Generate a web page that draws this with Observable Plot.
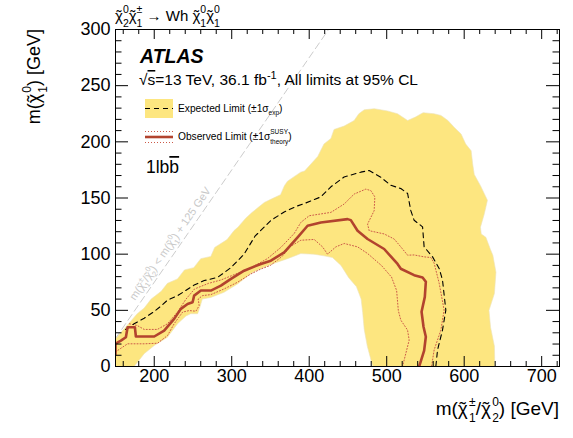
<!DOCTYPE html>
<html><head><meta charset="utf-8">
<script src="https://cdn.jsdelivr.net/npm/d3@7"></script>
<script src="https://cdn.jsdelivr.net/npm/@observablehq/plot@0.6"></script>
<style>body{margin:0;background:#fff}#chart{width:573px;height:438px}</style>
</head><body><div id="chart"></div>
<script>
// ---- data (GeV): [m(chargino/neutralino2), m(neutralino1)] ----
const bandUpper = [[150,25],[163,35],[178,47],[187,52],[196,60],[209,67],[217,74],[230,78],[239,86],[251,88],[260,96],[273,98],[278,106],[294,113],[303,121],[308,124],[318,132],[326,137],[342,146],[351,149],[363,153],[368,161],[372,165],[389,173],[394,174],[411,187],[419,198],[428,203],[432,211],[445,214],[458,219],[464,225],[471,228.5],[484,229.5],[501,227.5],[514,225],[527,219],[537,222],[547,226],[561,225],[570,223.5],[579,219],[587,213],[596,207],[602,198],[609,192],[611,180],[613,171],[621,161],[630,148],[626,136],[621,124],[622,118],[628,115],[634,104],[637,99],[641,84],[639,65],[632,50],[634,35],[639,18],[639.5,0]];
const bandLower = [[482,0],[475,18],[471,33],[469,48],[467,60],[461,71],[451,79],[441,90],[430,97],[419,98.5],[406,100],[389,100.5],[372,96],[355,92],[340,88],[325,83],[307.5,73.5],[290,66],[273,61.5],[262,60],[259,53],[256,47],[247,47],[241,45],[230,38],[217,26],[200,18.7],[187,11.4],[174,0],[150,0]];
const expectedLimit = [[163,33],[174,38],[187,43],[200,49],[209,54],[217,59],[230,63],[251.5,72.5],[264.5,76.5],[281.7,79.3],[299,88],[316,100],[330,116],[350.5,130],[367.7,137.6],[385,143],[393.5,145],[415,151],[428,160],[445,168.7],[466.6,173],[477.4,174.5],[492.4,168.5],[505.3,161.3],[518.2,158.4],[527,154],[531,139],[535.4,130.2],[546.3,124.3],[548.3,106.5],[559.2,97.6],[567.7,87.3],[572,77],[576.3,50.2],[572,32.4],[565.6,14.7],[563.4,0]];
const observedLimit = [[150,11],[150,20.4],[157,23],[163.4,26],[165.6,35],[175,35],[176.3,26.7],[200,26.7],[212.8,32],[225.7,42.4],[234.4,51.3],[243,55.7],[249.5,57.2],[251.5,63.1],[260.2,67.6],[273.1,67.6],[286,72],[299,78],[316,85.3],[337.6,91.3],[350.5,94.2],[367.7,101.6],[385,115],[397.9,125.3],[415,128.2],[449.5,131.2],[453.7,130.3],[462.4,120.9],[475.3,113.5],[496.7,104.6],[514,91.3],[518.2,87],[535.4,81.3],[546.3,79.3],[550.5,75.4],[549.2,62],[545,48.7],[547.5,35.4],[550.5,26.5],[548.3,14.2],[541.9,0]];
const observedUp = [[168,38],[178,36.5],[187,33],[204,33],[217,38],[230,48.5],[241,60],[252,69],[270,74],[286,77],[307.5,83],[325,88],[346,96],[363.4,106],[380.6,118.4],[389.2,128.3],[400,134.2],[428,137.2],[445,144.6],[458,153.5],[473,157.9],[479.5,156.6],[484.7,151],[483.8,138.7],[475.3,126.8],[477.4,120.9],[496.7,118],[509.6,113.5],[518.2,106.5],[526.9,99.1],[535.4,99.3],[548.3,97.6],[557,97],[561.2,92],[567.7,74.2],[574.1,50.2],[569.9,32.4],[561.2,14.7],[557.9,0]];
const observedDown = [[150,13],[165.6,20.2],[187,20.2],[204.3,20.7],[217.2,27.6],[225.7,38.1],[236.6,48.4],[245.1,49.8],[253.7,49.2],[258,54.2],[256.7,60.1],[262.4,63.1],[273.1,64],[290.3,69.1],[307.5,75],[324.7,82.4],[337.6,86.8],[350,90],[365,98],[376.3,107.1],[389.2,112.4],[406.4,113.1],[417.2,106.5],[423.6,100],[434.4,106.5],[445.1,109.5],[462.4,106.5],[475.3,100.6],[493.4,89.8],[506.3,79.5],[512.8,67.6],[515,49.8],[518.2,41.3],[526.9,32.4],[529,23.5],[524.7,11.7],[520.4,0]];
const higgsMass = 125;
const xDomain = [150, 723];
const yDomain = [0, 300];
const xMajor = [200, 300, 400, 500, 600, 700];
const xMinor = [160,180,220,240,260,280,320,340,360,380,420,440,460,480,520,540,560,580,620,640,660,680,720];
const yMajor = [0, 50, 100, 150, 200, 250, 300];
const yMinor = [10,20,30,40,60,70,80,90,110,120,130,140,160,170,180,190,210,220,230,240,260,270,280,290];

const FONT = "'Liberation Sans', Arial, Helvetica, sans-serif";
const YELLOW = "#fde680", RED = "#b2432e", DOT = "#cc5a48";
const band = bandUpper.concat(bandLower);
const diag = [[xDomain[0], xDomain[0] - higgsMass], [yDomain[1] + higgsMass, yDomain[1]]];
const X = d => d[0], Y = d => d[1];

const plot = Plot.plot({
  width: 573, height: 438,
  marginLeft: 115, marginRight: 14, marginTop: 29, marginBottom: 72,
  x: {domain: xDomain},
  y: {domain: yDomain},
  style: {fontFamily: FONT, background: "white", color: "black"},
  marks: [
    Plot.line(band, {x: X, y: Y, fill: YELLOW, stroke: "#ece3b8", strokeWidth: 0.6, clip: true}),
    Plot.line(diag, {x: X, y: Y, stroke: "#cccccc", strokeWidth: 1, strokeDasharray: "7,4", clip: true}),
    Plot.line(observedDown, {x: X, y: Y, stroke: DOT, strokeWidth: 1, strokeDasharray: "1,2", clip: true}),
    Plot.line(observedUp, {x: X, y: Y, stroke: DOT, strokeWidth: 1, strokeDasharray: "1,2", clip: true}),
    Plot.line(expectedLimit, {x: X, y: Y, stroke: "black", strokeWidth: 1.1, strokeDasharray: "5,4", clip: true}),
    Plot.line(observedLimit, {x: X, y: Y, stroke: RED, strokeWidth: 2.6, clip: true}),
    Plot.frame({stroke: "black", strokeWidth: 1}),
    // bottom / top ticks
    Plot.ruleX(xMajor, {x: d => d, y1: yDomain[0], y2: yDomain[0], insetBottom: 10, stroke: "black"}),
    Plot.ruleX(xMinor, {x: d => d, y1: yDomain[0], y2: yDomain[0], insetBottom: 5, stroke: "black"}),
    Plot.ruleX(xMajor, {x: d => d, y1: yDomain[1], y2: yDomain[1], insetBottom: -10, stroke: "black"}),
    Plot.ruleX(xMinor, {x: d => d, y1: yDomain[1], y2: yDomain[1], insetBottom: -5, stroke: "black"}),
    // left / right ticks
    Plot.ruleY(yMajor, {y: d => d, x1: xDomain[0], x2: xDomain[0], insetRight: -13, stroke: "black"}),
    Plot.ruleY(yMinor, {y: d => d, x1: xDomain[0], x2: xDomain[0], insetRight: -6.5, stroke: "black"}),
    Plot.ruleY(yMajor, {y: d => d, x1: xDomain[1], x2: xDomain[1], insetLeft: -13, stroke: "black"}),
    Plot.ruleY(yMinor, {y: d => d, x1: xDomain[1], x2: xDomain[1], insetLeft: -6.5, stroke: "black"}),
    Plot.axisX({ticks: xMajor, tickSize: 0, tickPadding: 3, fontSize: 18, label: null, anchor: "bottom"}),
    Plot.axisY({ticks: yMajor, tickSize: 0, tickPadding: 5, fontSize: 18, label: null, anchor: "left"})
  ]
});
document.getElementById("chart").appendChild(plot);

const svg = d3.select(plot);
const sx = plot.scale("x").apply, sy = plot.scale("y").apply;

// rich text: parts {t, size, sh (px up), stack (stack under previous), accent (centered over previous), gap, deco}
function rich(x, y, parts, o = {}) {
  const t = svg.append("text").attr("x", x).attr("y", y)
    .attr("font-family", FONT).attr("font-size", o.size || 14)
    .attr("fill", o.fill || "black").attr("text-anchor", o.anchor || "start");
  if (o.transform) t.attr("transform", o.transform);
  if (o.weight) t.attr("font-weight", o.weight);
  if (o.style) t.attr("font-style", o.style);
  let cur = 0, prevLen = 0, pend = 0;
  for (const p of parts) {
    const sh = p.sh || 0;
    const ts = t.append("tspan").text(p.t);
    if (p.size) ts.attr("font-size", p.size);
    if (p.deco) ts.attr("text-decoration", p.deco);
    ts.attr("dy", cur - sh);
    cur = sh;
    const len = ts.node().getComputedTextLength();
    if (p.accent) {
      ts.attr("dx", pend - (prevLen + len) / 2);
      pend = (prevLen - len) / 2;
      continue;
    }
    let dx = pend + (p.gap || 0); pend = 0;
    if (p.stack) dx -= prevLen;
    if (dx) ts.attr("dx", dx);
    if (p.stack && prevLen > len) pend = prevLen - len;
    prevLen = len;
  }
  return t;
}
function chiSS(sup, sub, size, up, down, gap = 0) {
  return [{t: "\u03C7"}, {t: "\u02DC", accent: true}, {t: sup, size, sh: up, gap}, {t: sub, size, sh: -down, stack: true}];
}

// Title above frame
rich(115, 21, [
  ...chiSS("0", "2", 10.5, 8.5, 5.5), ...chiSS("\u00B1", "1", 10.5, 8.5, 5.5),
  {t: " \u2192 Wh "},
  ...chiSS("0", "1", 10.5, 8.5, 5.5), ...chiSS("0", "1", 10.5, 8.5, 5.5)
], {size: 15});

// Axis titles
rich(0, 0, [
  {t: "m("}, ...chiSS("0", "1", 12, 9.5, 6.5, 1), {t: ") [GeV]"}
], {size: 18, anchor: "end", transform: "translate(40,29) rotate(-90)"});
rich(559, 415, [
  {t: "m("}, ...chiSS("\u00B1", "1", 12, 9.5, 6.5, 1.2), {t: "/"}, ...chiSS("0", "2", 12, 9.5, 6.5, 1.2), {t: ") [GeV]"}
], {size: 19, anchor: "end"});

// ATLAS label
rich(140, 63, [{t: "ATLAS"}], {size: 19.5, weight: "bold", style: "italic"});
rich(139, 85, [
  {t: "\u221A"}, {t: "s", deco: "overline"}, {t: "=13 TeV, 36.1 fb"}, {t: "-1", size: 11, sh: 6},
  {t: ", All limits at 95% CL"}
], {size: 15.5});

// Legend
svg.append("rect").attr("x", 145).attr("y", 99).attr("width", 28).attr("height", 19).attr("fill", YELLOW);
svg.append("line").attr("x1", 145).attr("x2", 173).attr("y1", 108.5).attr("y2", 108.5)
  .attr("stroke", "black").attr("stroke-width", 1.1).attr("stroke-dasharray", "5,4");
rich(178, 112, [{t: "Expected Limit (\u00B11\u03C3"}, {t: "exp", size: 6.5, sh: -3}, {t: ")"}], {size: 10.2});
for (const yy of [131.5, 142.5]) {
  svg.append("line").attr("x1", 145).attr("x2", 173).attr("y1", yy).attr("y2", yy)
    .attr("stroke", DOT).attr("stroke-width", 1).attr("stroke-dasharray", "1,2");
}
svg.append("line").attr("x1", 145).attr("x2", 173).attr("y1", 137).attr("y2", 137)
  .attr("stroke", RED).attr("stroke-width", 2.6);
rich(178, 140, [{t: "Observed Limit (\u00B11\u03C3"}, {t: "SUSY", size: 6.5, sh: 6}, {t: "theory", size: 6.5, sh: -3.5, stack: true}, {t: ")"}], {size: 10.2});

// channel label
rich(146, 173, [{t: "1lb"}, {t: "b", deco: "overline"}], {size: 17.5});

// kinematic line label
const ang = Math.atan2(sy(diag[1][1]) - sy(diag[0][1]), sx(diag[1][0]) - sx(diag[0][0])) * 180 / Math.PI;
const lx = sx(225), ly = sy(107);
rich(0, 0, [
  {t: "m("}, ...chiSS("\u00B1", "1", 7.5, 5, 3.5), {t: "/"}, ...chiSS("0", "2", 7.5, 5, 3.5),
  {t: ") < m("}, ...chiSS("0", "1", 7.5, 5, 3.5), {t: ") + 125 GeV"}
], {size: 11, fill: "#c8c8c8", anchor: "middle", transform: `translate(${lx},${ly}) rotate(${ang})`});
</script></body></html>
